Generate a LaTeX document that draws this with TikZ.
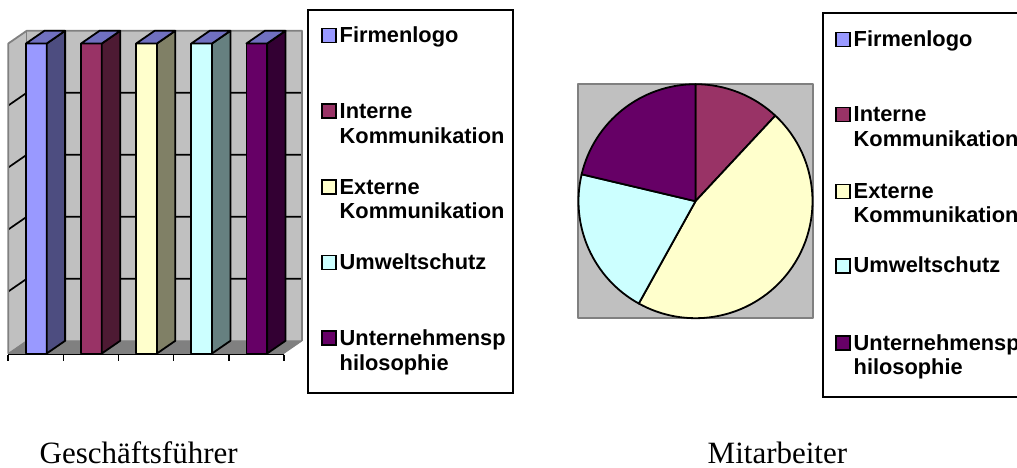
\documentclass[tikz,border=0pt]{standalone}
\usepackage{fontspec}
\setmainfont{Liberation Serif}
\newfontfamily\legfont{Liberation Sans}
\definecolor{cA}{RGB}{153,153,255}
\definecolor{cB}{RGB}{153,51,102}
\definecolor{cC}{RGB}{255,255,204}
\definecolor{cD}{RGB}{204,255,255}
\definecolor{cE}{RGB}{102,0,102}
\definecolor{sA}{RGB}{77,77,128}
\definecolor{sB}{RGB}{77,26,51}
\definecolor{sC}{RGB}{128,128,102}
\definecolor{sD}{RGB}{102,128,128}
\definecolor{sE}{RGB}{51,0,51}
\definecolor{topc}{RGB}{112,112,192}
\definecolor{wallgray}{RGB}{192,192,192}
\definecolor{edgegray}{RGB}{128,128,128}
\definecolor{floorgray}{RGB}{128,128,128}
\begin{document}
\begin{tikzpicture}[x=1pt,y=-1pt,
  wall/.style={fill=wallgray,draw=edgegray,line width=1.8pt,line join=round},
  floorst/.style={fill=floorgray,draw=edgegray,line width=1pt,line join=round},
  gridl/.style={draw=black,line width=1.7pt},
  barst/.style={draw=black,line width=1.8pt,line join=round},
  axisl/.style={draw=black,line width=1.7pt},
  legbox/.style={draw=black,line width=1.7pt},
  legsq/.style={draw=black,line width=1.6pt},
  legtext/.style={font=\legfont\bfseries\fontsize{21.8}{25}\selectfont,anchor=base west,inner sep=0pt},
  title/.style={font=\fontsize{31}{31}\selectfont,anchor=base west,inner sep=0pt},
  slice/.style={draw=black,line width=1.8pt,line join=round}]
\useasboundingbox (0,0) rectangle (1017,468);
\clip (0,0) rectangle (1017,468);
% ---- bar chart ----
\fill[wallgray] (26.7,30.8) rectangle (302,340.8);
\fill[wallgray] (8.3,43.5) -- (26.7,30.8) -- (26.7,340.8) -- (8.3,353.5) -- cycle;
\draw[floorst] (8.3,353.5) -- (283.6,353.5) -- (302,340.8) -- (26.7,340.8) -- cycle;
\foreach \g in {92.8,154.8,216.8,278.8}{
  \draw[gridl] (8.3,\g+12.7) -- (26.7,\g) -- (302,\g);
}
\draw[draw=edgegray,line width=1.8pt,line join=round]
  (8.3,353.5) -- (8.3,43.5) -- (26.7,30.8) -- (302,30.8) -- (302,340.8);
\draw[draw=edgegray,line width=1.4pt] (26.7,30.8) -- (26.7,340.8);
\foreach \x/\f/\s in {26/cA/sA,81.1/cB/sB,136.2/cC/sC,191.3/cD/sD,246.4/cE/sE}{
  \draw[barst,fill=\f] (\x,43.5) rectangle (\x+20.7,353.5);
  \draw[barst,fill=\s] (\x+20.7,43.5) -- (\x+39.1,30.8) -- (\x+39.1,340.8) -- (\x+20.7,353.5) -- cycle;
  \draw[barst,fill=topc] (\x,43.5) -- (\x+20.7,43.5) -- (\x+39.1,30.8) -- (\x+18.4,30.8) -- cycle;
}
\draw[axisl] (8.3,354.5) -- (283.8,354.5);
\foreach \k in {0,...,5}{
  \draw[axisl] (8.3+55.1*\k,354.5) -- (8.3+55.1*\k,360.5);
}
% ---- legend 1 ----
\draw[legbox] (308.3,10) rectangle (513.3,393.3);
\foreach \b/\c in {42.7/cA,118.3/cB,194/cC,269.3/cD,345/cE}{
  \draw[legsq,fill=\c] (322,\b-14) rectangle (336,\b);
}
\node[legtext] (l1a) at (339.5,42.7) {Firmenlogo};
\node[legtext] (l1b) at (339.5,118.3) {Interne};
\node[legtext] (l1b2) at (339.5,143.3) {Kommunikation};
\node[legtext] (l1c) at (339.5,194) {Externe};
\node[legtext] (l1c2) at (339.5,218.6) {Kommunikation};
\node[legtext] (l1d) at (339.5,269.3) {Umweltschutz};
\node[legtext] (l1e) at (339.5,345) {Unternehmensp};
\node[legtext] (l1e2) at (339.5,370) {hilosophie};
% ---- pie chart ----
\draw[wall] (578.3,84) rectangle (812.7,318.3);
\coordinate (pc) at (695.5,201.2);
\def\R{117}
\draw[slice,fill=cB] (pc) -- ++(-90:\R) arc[start angle=-90,end angle=-47,radius=\R] -- cycle;
\draw[slice,fill=cC] (pc) -- ++(-47:\R) arc[start angle=-47,end angle=119,radius=\R] -- cycle;
\draw[slice,fill=cD] (pc) -- ++(119:\R) arc[start angle=119,end angle=193.3,radius=\R] -- cycle;
\draw[slice,fill=cE] (pc) -- ++(193.3:\R) arc[start angle=193.3,end angle=270,radius=\R] -- cycle;
% ---- legend 2 ----
\draw[legbox] (823.3,13.3) rectangle (1040,396.7);
\foreach \b/\c in {46.7/cA,121.7/cB,198.3/cC,272.7/cD,350/cE}{
  \draw[legsq,fill=\c] (836,\b-14) rectangle (850,\b);
}
\node[legtext] (l2a) at (853.5,46.7) {Firmenlogo};
\node[legtext] (l2b) at (853.5,121.7) {Interne};
\node[legtext] (l2b2) at (853.5,146.7) {Kommunikation};
\node[legtext] (l2c) at (853.5,198.3) {Externe};
\node[legtext] (l2c2) at (853.5,222.9) {Kommunikation};
\node[legtext] (l2d) at (853.5,272.7) {Umweltschutz};
\node[legtext] (l2e) at (853.5,350) {Unternehmensp};
\node[legtext] (l2e2) at (853.5,374.5) {hilosophie};
% ---- titles ----
\node[title] (t1) at (39.5,463.3) {Geschäftsführer};
\node[title] (t2) at (707.5,463.3) {Mitarbeiter};
\end{tikzpicture}
\end{document}
